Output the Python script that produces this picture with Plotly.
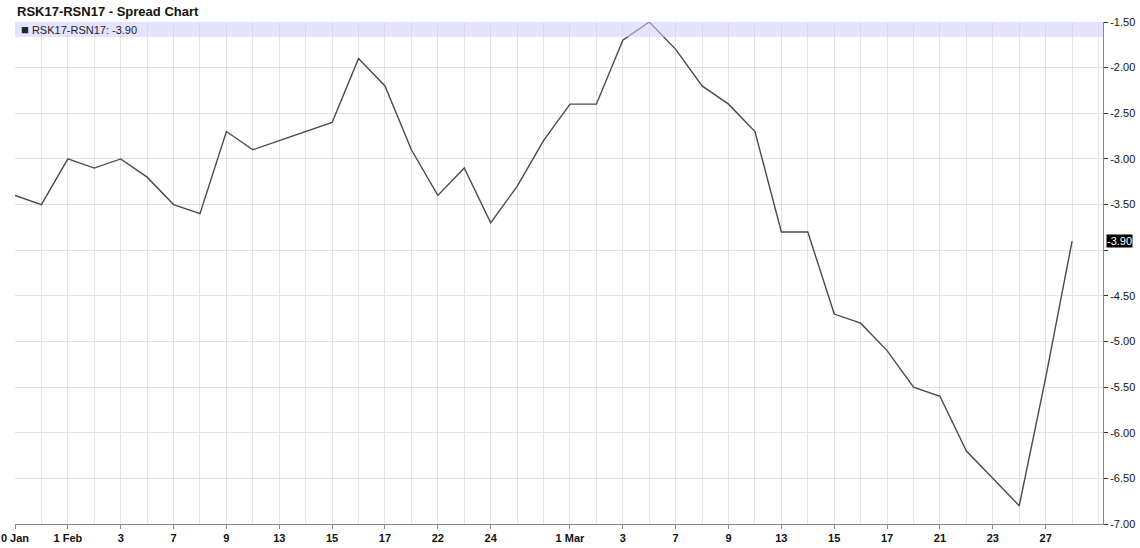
import plotly.graph_objects as go

title_text = "RSK17-RSN17 - Spread Chart"
series_name = "RSK17-RSN17"

dates = ["30 Jan", "31 Jan", "1 Feb", "2 Feb", "3 Feb", "6 Feb", "7 Feb", "8 Feb", "9 Feb", "10 Feb",
         "13 Feb", "14 Feb", "15 Feb", "16 Feb", "17 Feb", "21 Feb", "22 Feb", "23 Feb", "24 Feb", "27 Feb",
         "28 Feb", "1 Mar", "2 Mar", "3 Mar", "6 Mar", "7 Mar", "8 Mar", "9 Mar", "10 Mar", "13 Mar",
         "14 Mar", "15 Mar", "16 Mar", "17 Mar", "20 Mar", "21 Mar", "22 Mar", "23 Mar", "24 Mar", "27 Mar",
         "28 Mar"]
spread = [-3.4, -3.5, -3.0, -3.1, -3.0, -3.2, -3.5, -3.6, -2.7, -2.9,
          -2.8, -2.7, -2.6, -1.9, -2.2, -2.9, -3.4, -3.1, -3.7, -3.3,
          -2.8, -2.4, -2.4, -1.7, -1.5, -1.8, -2.2, -2.4, -2.7, -3.8,
          -3.8, -4.7, -4.8, -5.1, -5.5, -5.6, -6.2, -6.5, -6.8, -5.4,
          -3.9]
tick_idx = [0, 2, 4, 6, 8, 10, 12, 14, 16, 18, 21, 23, 25, 27, 29, 31, 33, 35, 37, 39]
# the first label is shown clipped ("0 Jan") in the reference
tick_labels = ["0 Jan", "1 Feb", "3", "7", "9", "13", "15", "17", "22", "24",
               "1 Mar", "3", "7", "9", "13", "15", "17", "21", "23", "27"]
y_ticks = [-7.0, -6.5, -6.0, -5.5, -5.0, -4.5, -4.0, -3.5, -3.0, -2.5, -2.0, -1.5]

x = list(range(len(spread)))
last = spread[-1]

FONT = "Liberation Sans, Arial, sans-serif"

# the -4.00 label sits under the last-value tag in the reference
y_ticktext = ["" if abs(v - (-4.0)) < 1e-9 else f"{v:.2f}" for v in y_ticks]

fig = go.Figure()
fig.add_trace(go.Scatter(x=x, y=spread, mode="lines", name=series_name,
                         line=dict(color="#4a4a4a", width=1.4),
                         customdata=dates, hovertemplate="%{customdata}: %{y:.2f}<extra></extra>"))

fig.update_layout(
    width=1140, height=548,
    margin=dict(l=15, r=37, t=22, b=24, autoexpand=False),
    paper_bgcolor="white", plot_bgcolor="white",
    showlegend=False,
    font=dict(family=FONT, size=11, color="#000"),
    xaxis=dict(
        range=[0, 41.17], tickmode="array", tickvals=tick_idx, ticktext=tick_labels,
        showgrid=True, gridcolor="#e4e4e4", gridwidth=1,
        minor=dict(tickmode="linear", tick0=0, dtick=1, showgrid=True, gridcolor="#e4e4e4", ticks=""),
        showline=True, linecolor="#888", linewidth=1,
        ticks="outside", ticklen=4, tickcolor="#888",
        ticklabeloverflow="allow", automargin=False,
        tickfont=dict(family=FONT, size=11, color="#111", weight="bold"),
        zeroline=False, fixedrange=True,
    ),
    yaxis=dict(
        side="right", range=[-7.0, -1.5], tickmode="array", tickvals=y_ticks,
        ticktext=y_ticktext, automargin=False,
        showgrid=True, gridcolor="#e4e4e4", gridwidth=1,
        showline=True, linecolor="#888", linewidth=1,
        ticks="outside", ticklen=4, tickcolor="#333",
        tickfont=dict(family=FONT, size=11, color="#111"),
        zeroline=False, fixedrange=True,
    ),
)

# legend band
fig.add_shape(type="rect", xref="paper", yref="paper", x0=0, x1=1, y0=1 - 15 / 502, y1=1,
              fillcolor="rgba(205,205,255,0.55)", line=dict(width=0), layer="above")

fig.add_annotation(xref="paper", yref="paper", x=0, y=1, xshift=4, yshift=-7,
                   xanchor="left", yanchor="middle", showarrow=False,
                   text=f"<span style='font-size:13px'>■</span> {series_name}: {last:.2f}",
                   font=dict(family=FONT, size=11, color="#222"))

fig.add_annotation(xref="paper", yref="paper", x=0, y=1, xshift=0, yshift=11,
                   xanchor="left", yanchor="middle", showarrow=False,
                   text=f"<b>{title_text}</b>",
                   font=dict(family=FONT, size=13, color="#111"))

# last value tag
fig.add_annotation(xref="paper", yref="y", x=1, y=last, xshift=3, yshift=0,
                   xanchor="left", yanchor="middle", showarrow=False,
                   text=f"{last:.2f}", bgcolor="#000", borderpad=0,
                   font=dict(family=FONT, size=11, color="#fff"))

fig.write_html("out.html", config={"displayModeBar": False},
               post_script="document.body.style.margin='0';document.body.style.padding='0';")
